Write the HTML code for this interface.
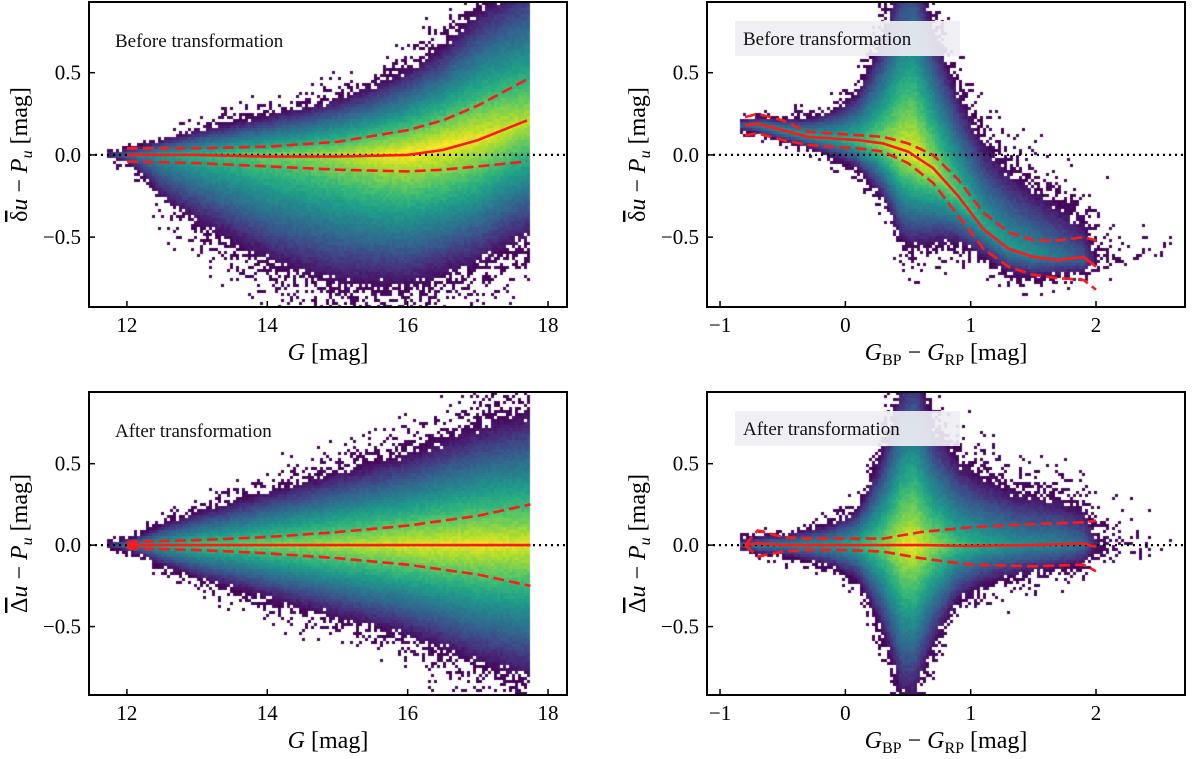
<!DOCTYPE html>
<html><head><meta charset="utf-8"><style>
body{margin:0;background:#fff;width:1200px;height:759px;overflow:hidden;position:relative;font-family:"Liberation Serif",serif}
canvas{position:absolute}
svg{position:absolute;left:0;top:0}
</style></head><body>
<canvas id="c0"></canvas>
<canvas id="c1"></canvas>
<canvas id="c2"></canvas>
<canvas id="c3"></canvas>
<svg id="ov" width="1200" height="759"></svg>
<script>
// ---- Panel 0: before, vs G ----
const p0X=[11.7,12,12.5,13,13.5,14,14.5,15,15.5,16,16.5,17,17.5,17.75];
const p0Center=[0,0,0,0,0,0,0,0,0,0.01,0.05,0.1,0.17,0.2];
const p0Peak=[0.15,0.35,0.55,0.65,0.72,0.78,0.82,0.88,0.95,1,1,0.98,0.92,0.9];
const p0Up=[0.1,0.12,0.18,0.24,0.28,0.32,0.36,0.4,0.45,0.52,0.62,0.8,0.95,1.0];
const p0Down=[0.1,0.15,0.5,0.65,0.75,0.85,0.9,0.9,0.85,0.82,0.8,0.8,0.8,0.8];
const p0LineX=[12,13,14,15,16,16.5,17,17.7];
const p0Mid=[0,0,-0.01,-0.01,0,0.03,0.09,0.21];
const p0Hi=[0.04,0.04,0.05,0.08,0.15,0.21,0.3,0.46];
const p0Lo=[-0.04,-0.05,-0.07,-0.09,-0.1,-0.09,-0.07,-0.04];
// ---- Panel 1: before, vs colour ----
const p1X=[-0.85,-0.7,-0.5,-0.3,-0.1,0.1,0.3,0.45,0.55,0.7,0.9,1.1,1.3,1.5,1.7,1.9,2.0,2.2,2.6];
const p1Center=[0.18,0.18,0.15,0.12,0.1,0.08,0.06,0.03,0,-0.1,-0.25,-0.42,-0.55,-0.6,-0.62,-0.65,-0.65,-0.65,-0.6];
const p1Peak=[0.3,0.45,0.5,0.55,0.6,0.7,0.85,0.95,0.97,0.9,0.75,0.6,0.55,0.5,0.4,0.3,0.05,-0.15,-0.3];
const p1Up=[0.1,0.12,0.15,0.2,0.3,0.45,0.8,1.2,1.3,1.0,0.85,0.85,0.85,0.8,0.8,0.8,0.9,1.0,1.1];
const p1Down=[0.1,0.12,0.15,0.15,0.2,0.25,0.4,0.6,0.6,0.5,0.4,0.35,0.32,0.32,0.3,0.25,0.25,0.25,0.25];
const p1LineX=[-0.8,-0.7,-0.5,-0.3,-0.1,0.1,0.3,0.5,0.7,0.9,1.1,1.3,1.5,1.7,1.9,2.0];
const p1Mid=[0.18,0.19,0.15,0.11,0.1,0.09,0.07,0.02,-0.08,-0.25,-0.45,-0.57,-0.62,-0.64,-0.62,-0.68];
const p1Hi=[0.23,0.25,0.21,0.14,0.13,0.12,0.11,0.07,0,-0.15,-0.35,-0.47,-0.52,-0.52,-0.5,-0.52];
const p1Lo=[0.12,0.13,0.09,0.06,0.05,0.04,0.02,-0.05,-0.17,-0.37,-0.57,-0.68,-0.73,-0.75,-0.76,-0.82];
// ---- Panel 2: after, vs G ----
const p2X=[11.7,12,12.5,13,14,15,16,17,17.75];
const p2Center=[0,0,0,0,0,0,0,0,0];
const p2Peak=[0.15,0.4,0.6,0.7,0.8,0.88,0.95,0.97,0.95];
const p2Up=[0.08,0.1,0.22,0.3,0.42,0.52,0.6,0.76,0.88];
const p2Down=[0.08,0.1,0.22,0.3,0.42,0.52,0.6,0.76,0.88];
const p2LineX=[12,13,14,15,16,17,17.75];
const p2Mid=[0,0,0,0,0,0,0];
const p2Hi=[0.02,0.03,0.05,0.08,0.12,0.18,0.25];
const p2Lo=[-0.02,-0.03,-0.05,-0.08,-0.12,-0.18,-0.25];
// ---- Panel 3: after, vs colour ----
const p3X=[-0.85,-0.7,-0.5,-0.3,-0.1,0.1,0.3,0.45,0.55,0.7,0.9,1.1,1.4,1.7,1.9,2.0,2.2,2.6];
const p3Center=[0,0,0,0,0,0,0,0,0,0,0,0,0,0,0,0,0,0];
const p3Peak=[0.3,0.45,0.45,0.5,0.55,0.65,0.8,0.95,0.97,0.85,0.7,0.6,0.5,0.45,0.35,0.1,-0.1,-0.3];
const p3Up=[0.1,0.12,0.15,0.2,0.25,0.35,0.75,1.1,1.2,0.9,0.75,0.7,0.65,0.65,0.65,0.75,0.9,1.1];
const p3Down=[0.1,0.12,0.15,0.2,0.25,0.35,0.7,1.0,1.0,0.75,0.5,0.42,0.38,0.35,0.35,0.35,0.45,0.55];
const p3LineX=[-0.8,-0.7,-0.5,-0.3,0,0.3,0.6,1,1.5,1.9,2.0];
const p3Mid=[0,0.01,0,0,0,0,0,-0.005,0,0.01,-0.01];
const p3Hi=[0,0.09,0.05,0.04,0.04,0.04,0.08,0.11,0.13,0.14,0.15];
const p3Lo=[0,-0.07,-0.04,-0.03,-0.03,-0.04,-0.08,-0.12,-0.13,-0.12,-0.16];
const yTicks=[-0.5,0,0.5];
const yTickLabels=["\u22120.5","0.0","0.5"];
const gTicks=[12,14,16,18];
const cTicks=[-1,0,1,2];
const cTickLabels=["\u22121","0","1","2"];

const panels=[
 {x0:89,x1:567,y0:2,y1:307,xd:[11.46,18.27],yd:[-0.925,0.93],X:p0X,C:p0Center,P:p0Peak,U:p0Up,D:p0Down,LX:p0LineX,M:p0Mid,H:p0Hi,L:p0Lo,xt:gTicks,xtl:gTicks.map(String),txt:"Before transformation",box:false,sym:"δ",xl:"G"},
 {x0:707,x1:1185,y0:2,y1:307,xd:[-1.104,2.71],yd:[-0.925,0.93],X:p1X,C:p1Center,P:p1Peak,U:p1Up,D:p1Down,LX:p1LineX,M:p1Mid,H:p1Hi,L:p1Lo,xt:cTicks,xtl:cTickLabels,txt:"Before transformation",box:true,sym:"δ",xl:"C"},
 {x0:89,x1:567,y0:392,y1:695,xd:[11.46,18.27],yd:[-0.92,0.94],X:p2X,C:p2Center,P:p2Peak,U:p2Up,D:p2Down,LX:p2LineX,M:p2Mid,H:p2Hi,L:p2Lo,xt:gTicks,xtl:gTicks.map(String),txt:"After transformation",box:false,sym:"Δ",xl:"G"},
 {x0:707,x1:1185,y0:392,y1:695,xd:[-1.104,2.71],yd:[-0.92,0.94],X:p3X,C:p3Center,P:p3Peak,U:p3Up,D:p3Down,LX:p3LineX,M:p3Mid,H:p3Hi,L:p3Lo,xt:cTicks,xtl:cTickLabels,txt:"After transformation",box:true,sym:"Δ",xl:"C"}
];
const VIR=[[68,1,84],[72,40,120],[62,74,137],[49,104,142],[38,130,142],[31,158,137],[53,183,121],[109,205,89],[180,222,44],[253,231,37]];
function vir(t){t=Math.max(0,Math.min(1,t))*(VIR.length-1);const i=Math.min(VIR.length-2,Math.floor(t)),f=t-i;
 return VIR[i].map((c,k)=>Math.round(c+(VIR[i+1][k]-c)*f));}
function interp(xs,ys,x){if(x<=xs[0])return ys[0];for(let i=1;i<xs.length;i++){if(x<=xs[i]){const f=(x-xs[i-1])/(xs[i]-xs[i-1]);return ys[i-1]+(ys[i]-ys[i-1])*f;}}return ys[ys.length-1];}
function hash(a,b,s){let h=(a*374761393+b*668265263+s*1442695041)|0;h=(h^(h>>>13))*1274126177|0;h=h^(h>>>16);return ((h>>>0)%10000)/10000;}
const NS="http://www.w3.org/2000/svg";const ov=document.getElementById('ov');
function mk(tag,attrs,parent){const e=document.createElementNS(NS,tag);for(const k in attrs)e.setAttribute(k,attrs[k]);(parent||ov).appendChild(e);return e;}
panels.forEach((p,pi)=>{
 const sx=v=>p.x0+(v-p.xd[0])/(p.xd[1]-p.xd[0])*(p.x1-p.x0);
 const sy=v=>p.y1-(v-p.yd[0])/(p.yd[1]-p.yd[0])*(p.y1-p.y0);
 const ix=px=>p.xd[0]+(px-p.x0)/(p.x1-p.x0)*(p.xd[1]-p.xd[0]);
 const iy=py=>p.yd[0]+(p.y1-py)/(p.y1-p.y0)*(p.yd[1]-p.yd[0]);
 const cv=document.getElementById('c'+pi);const W=p.x1-p.x0,H=p.y1-p.y0;
 cv.width=W;cv.height=H;cv.style.left=p.x0+'px';cv.style.top=p.y0+'px';
 const ctx=cv.getContext('2d');const cs=3;const xmin=p.X[0],xmax=p.X[p.X.length-1];
 for(let gx=0;gx*cs<W;gx++){const xv=ix(p.x0+gx*cs+1.5);if(xv<xmin||xv>xmax)continue;
  const c=interp(p.X,p.C,xv),pk=interp(p.X,p.P,xv),u=interp(p.X,p.U,xv),d=interp(p.X,p.D,xv);
  for(let gy=0;gy*cs<H;gy++){const yv=iy(p.y0+gy*cs+1.5);const dist=yv-c;
   const v=pk-Math.abs(dist)/(dist>0?u:d);let col=null;
   if(v>0.08){col=vir(v+hash(gx,gy,pi+7)*0.06-0.03);}
   else if(v>-0.6){const pr=Math.pow((v+0.6)/0.68,3.2);if(hash(gx,gy,pi)<pr)col=vir(0.04*hash(gy,gx,3)+ (v>0?v*0.8:0));}
   if(col){ctx.fillStyle=`rgb(${col[0]},${col[1]},${col[2]})`;ctx.fillRect(gx*cs,gy*cs,cs,cs);}
  }}
 const g=mk('g',{});
 
 
 const z=mk('line',{x1:p.x0,x2:p.x1,y1:sy(0),y2:sy(0),stroke:'#000','stroke-width':2.2,'stroke-dasharray':'2 4'},g);
 
 
 const pathOf=(ys)=>p.LX.map((x,i)=>(i?'L':'M')+sx(x).toFixed(1)+','+sy(ys[i]).toFixed(1)).join('');
 const m=mk('path',{d:pathOf(p.M),fill:'none',stroke:'#ff1a1a','stroke-width':2.6},g);
 
 
 const hi=mk('path',{d:pathOf(p.H),fill:'none',stroke:'#ff1a1a','stroke-width':2.6,'stroke-dasharray':'11 5'},g);
 
 
 const lo=mk('path',{d:pathOf(p.L),fill:'none',stroke:'#ff1a1a','stroke-width':2.6,'stroke-dasharray':'11 5'},g);
 
 
 if(pi===2){const dot=mk('circle',{cx:sx(12.1),cy:sy(0),r:4,fill:'#ff1a1a'},g);
  
  }
 if(p.box){const b=mk('rect',{x:p.x0+28,y:p.y0+19,width:225,height:35,fill:'rgba(238,238,243,0.92)'},g);
  
  }
 const t=mk('text',{x:p.x0+(p.box?36:26),y:p.y0+(p.box?43:45),'font-size':19,'font-family':'Liberation Serif, serif',fill:'#111'},g);
 t.textContent=p.txt;
 
 
 const f=mk('rect',{x:p.x0,y:p.y0,width:W,height:H,fill:'none',stroke:'#000','stroke-width':2},g);
 
 
 yTicks.forEach((v,i)=>{mk('line',{x1:p.x0,x2:p.x0+6,y1:sy(v),y2:sy(v),stroke:'#000','stroke-width':1.5},g);
  const tl=mk('text',{x:p.x0-8,y:sy(v)+7,'text-anchor':'end','font-size':21,'font-family':'Liberation Serif, serif'},g);
  tl.textContent=yTickLabels[i];
  
  });
 p.xt.forEach((v,i)=>{mk('line',{x1:sx(v),x2:sx(v),y1:p.y1,y2:p.y1-6,stroke:'#000','stroke-width':1.5},g);
  const tl=mk('text',{x:sx(v),y:p.y1+25,'text-anchor':'middle','font-size':21,'font-family':'Liberation Serif, serif'},g);
  tl.textContent=p.xtl[i];
  
  });
 const cy=(p.y0+p.y1)/2, lx=p.x0-62;
 const yl=mk('text',{x:lx,y:cy,transform:`rotate(-90 ${lx} ${cy})`,'text-anchor':'middle','font-size':24,'font-family':'Liberation Serif, serif'},g);
 yl.innerHTML=`<tspan text-decoration="overline">${p.sym}</tspan><tspan font-style="italic">u</tspan> − <tspan font-style="italic">P</tspan><tspan font-size="16" dy="5" font-style="italic">u</tspan><tspan dy="-5"> [mag]</tspan>`;
 
 
 const xl=mk('text',{x:(p.x0+p.x1)/2,y:p.y1+53,'text-anchor':'middle','font-size':24,'font-family':'Liberation Serif, serif'},g);
 if(p.xl==='G')xl.innerHTML='<tspan font-style="italic">G</tspan> [mag]';
 else xl.innerHTML='<tspan font-style="italic">G</tspan><tspan font-size="16" dy="5">BP</tspan><tspan dy="-5"> − </tspan><tspan font-style="italic">G</tspan><tspan font-size="16" dy="5">RP</tspan><tspan dy="-5"> [mag]</tspan>';
 
 
});
</script>
</body></html>
